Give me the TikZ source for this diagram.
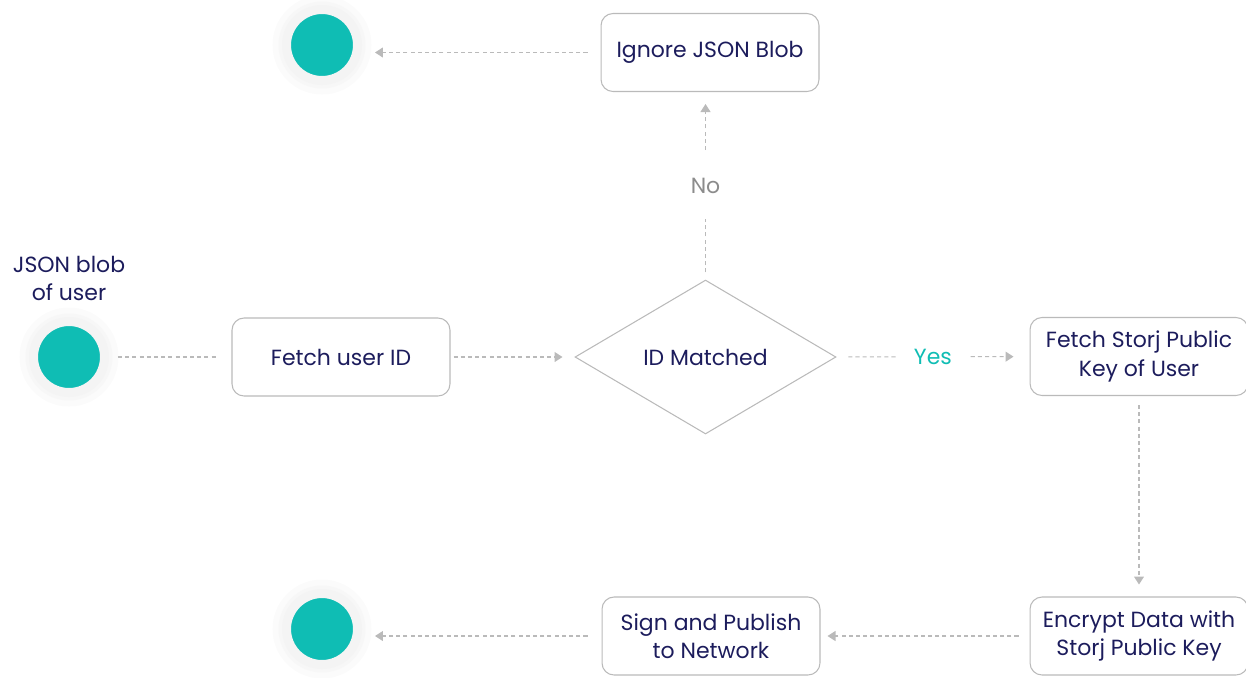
\documentclass[tikz,border=0pt]{standalone}
\usepackage{fontspec}
\setmainfont{Poppins}
\usetikzlibrary{shapes.geometric,arrows.meta}
\definecolor{tealc}{HTML}{0FBDB4}
\definecolor{navy}{HTML}{1C1C5C}
\definecolor{lgray}{HTML}{BABABA}
\definecolor{ringc}{HTML}{F4F4F4}
\tikzset{
    every node/.style={font=\fontsize{12.5pt}{16pt}\selectfont, text=navy}
}
\tikzset{
    box/.style={draw=lgray, line width=0.6pt, rounded corners=0.24cm,
        minimum width=4.36cm, minimum height=1.56cm, align=center}
}
\tikzset{
    term/.style={circle, fill=tealc, draw=ringc, line width=0.18cm,
        minimum size=1.42cm, inner sep=0pt,
        preaction={draw=black!1.5, line width=0.56cm},
        preaction={draw=black!3, line width=0.32cm}}
}
\tikzset{
    flow/.style={draw=lgray, line width=0.6pt, dash pattern=on 2.3pt off 1.8pt,
        -{Triangle[length=0.16cm,width=0.2cm]}}
}

\begin{document}
\begin{tikzpicture}[x=0.02cm, y=-0.02cm]
  \useasboundingbox (0,0) rectangle (1246,677);

  \node (top) [term] at (322,45) {};

  \node (ign) [box] at (710,52.5) {Ignore JSON Blob};

  \node (src) [term, label={[align=center, label distance=0.2cm]above:JSON blob\\of user}] at (69,357) {};

  \node (fet) [box] at (341,357) {Fetch user ID};

  \node (mat) [diamond, draw=lgray, line width=0.6pt, minimum width=5.22cm,
    minimum height=3.08cm, inner sep=0pt] at (705.5,357) {ID Matched};

  \node (key) [box] at (1139,356.5) {Fetch Storj Public\\Key of User};

  \node (enc) [box] at (1139,636) {Encrypt Data with\\Storj Public Key};

  \node (sign) [box] at (711,636) {Sign and Publish\\to Network};

  \node (bot) [term] at (322,629) {};

  \draw [flow, -, shorten <=0.18cm, shorten >=0.3cm] (src) -- (fet);
  \draw [flow, shorten <=0.06cm, shorten >=0.24cm] (fet) -- (mat);
  \draw [flow, shorten <=0.24cm, shorten >=0.32cm] (mat) -- node [fill=white, text=tealc, inner xsep=0.34cm] {Yes} (key);
  \draw [flow, shorten <=0.14cm, shorten >=0.24cm] (mat.north) -- node [fill=white, text=black!45, inner ysep=0.5cm] {No} (mat.north |- ign.south);
  \draw [flow, shorten <=0.26cm, shorten >=0.26cm] (ign.west) -- (top.east |- ign.west);
  \draw [flow, shorten <=0.18cm, shorten >=0.24cm] (key) -- (enc);
  \draw [flow, shorten <=0.22cm, shorten >=0.14cm] (enc) -- (sign);
  \draw [flow, shorten <=0.28cm, shorten >=0.26cm] (sign.west) -- (bot.east |- sign.west);
\end{tikzpicture}
\end{document}
